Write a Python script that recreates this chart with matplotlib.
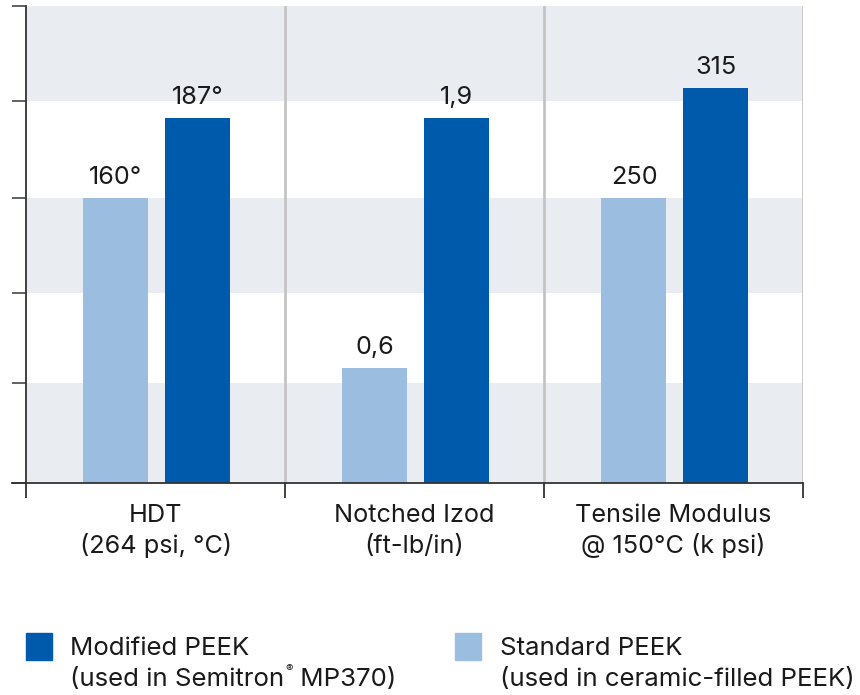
import matplotlib
matplotlib.use("Agg")
import matplotlib.pyplot as plt
from matplotlib.patches import Rectangle

plt.rcParams['font.family'] = ['Inter', 'DejaVu Sans']

# ---- data ----
categories = ["HDT\n(264 psi, °C)", "Notched Izod\n(ft-lb/in)", "Tensile Modulus\n@ 150°C (k psi)"]
standard_values = [160, 0.6, 250]
modified_values = [187, 1.9, 315]
standard_labels = ["160°", "0,6", "250"]
modified_labels = ["187°", "1,9", "315"]
# bar heights as drawn in the chart (each group on its own display scale)
standard_heights = [285, 115, 285]
modified_heights = [365, 365, 395]
band_ticks = [0, 100, 190, 285, 382, 477]
modified_name = ["Modified PEEK", "(used in Semitron", "®", " MP370)"]
standard_name = ["Standard PEEK", "(used in ceramic-filled PEEK)"]

DARK = "#005aab"
LIGHT = "#9bbde0"
BAND = "#e9edf1"
SEP = "#c4c4c4"
TXT = "#1a1a1a"

W, H = 860, 695
fig = plt.figure(figsize=(W / 100, H / 100), dpi=100)
ax = fig.add_axes([26 / W, 1 - 483 / H, (803 - 26) / W, (483 - 6) / H])

ax.set_xlim(-0.5, 2.5)
ax.set_ylim(band_ticks[0], band_ticks[-1])

# background bands
for i in range(0, len(band_ticks) - 1, 2):
    ax.axhspan(band_ticks[i], band_ticks[i + 1], color=BAND, lw=0, zorder=0)

# group separators
for xs in [0.5, 1.5, 2.5]:
    ax.axvline(xs, color=SEP, lw=2, zorder=1)

x = list(range(len(categories)))
bw = 0.251
off_l, off_r = -0.1527, 0.1623
xl = [xi + off_l for xi in x]
xr = [xi + off_r for xi in x]
bl = ax.bar(xl, standard_heights, width=bw, color=LIGHT, zorder=2)
br = ax.bar(xr, modified_heights, width=bw, color=DARK, zorder=2)

fs = 18.2
for bars, labs in [(bl, standard_labels), (br, modified_labels)]:
    for b, lab in zip(bars, labs):
        ax.annotate(lab, (b.get_x() + b.get_width() / 2, b.get_height()),
                    xytext=(0, 10), textcoords="offset points",
                    ha="center", va="baseline", fontsize=fs, color=TXT)

# spines & ticks
for s in ["top", "right"]:
    ax.spines[s].set_visible(False)
for s in ["left", "bottom"]:
    ax.spines[s].set_color("#333333")
    ax.spines[s].set_linewidth(1.3)
    ax.spines[s].set_zorder(3)
ax.spines["bottom"].set_bounds(-0.5 - 14 / 259, 2.5)
ax.set_yticks(band_ticks)
ax.set_yticklabels([])
ax.tick_params(axis="y", length=10, width=1.3, color="#555555")
ax.set_xticks([-0.5, 0.5, 1.5, 2.5])
ax.set_xticklabels([])
ax.tick_params(axis="x", length=11, width=1.3, color="#333333")

# category labels (two lines each, baselines 39 and 70 px below the axis)
for xi, cat in zip(x, categories):
    for k, line in enumerate(cat.split("\n")):
        ax.annotate(line, (xi, 0), xycoords=("data", "axes fraction"),
                    xytext=(0, -(39 + 31 * k) * 0.72), textcoords="offset points",
                    ha="center", va="baseline", fontsize=fs, color=TXT)

# legend
lfs = 18.6
def px(xp, yp):
    return xp / W, 1 - yp / H

for x0, color in [(26, DARK), (455, LIGHT)]:
    fig.patches.append(Rectangle(px(x0, 660), 26 / W, 27 / H,
                                 transform=fig.transFigure, color=color))

fig.text(*px(70, 655), modified_name[0], ha="left", va="baseline", fontsize=lfs, color=TXT)
t = fig.text(*px(70, 686), modified_name[1], ha="left", va="baseline", fontsize=lfs, color=TXT)
fig.canvas.draw()
r = fig.canvas.get_renderer()
bb = t.get_window_extent(r)
reg = fig.text((bb.x1 + 1) / W, 1 - 672 / H, modified_name[2], ha="left",
               va="baseline", fontsize=8, color=TXT)
bb2 = reg.get_window_extent(r)
fig.text(bb2.x1 / W, 1 - 686 / H, modified_name[3], ha="left", va="baseline",
         fontsize=lfs, color=TXT)

fig.text(*px(500, 655), standard_name[0], ha="left", va="baseline", fontsize=lfs, color=TXT)
fig.text(*px(500, 686), standard_name[1], ha="left", va="baseline", fontsize=lfs, color=TXT)

fig.savefig("out.png", dpi=100)
